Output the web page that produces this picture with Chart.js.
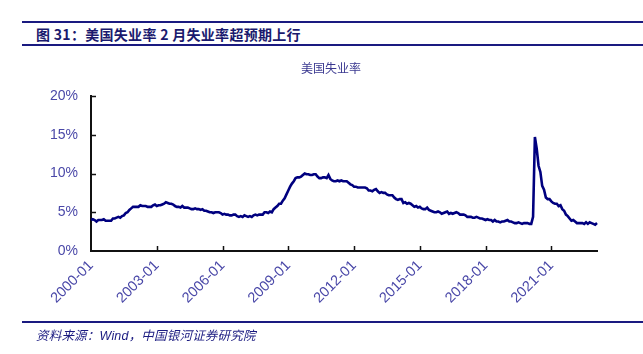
<!DOCTYPE html>
<html>
<head>
<meta charset="utf-8">
<script src="https://cdn.jsdelivr.net/npm/chart.js@4.4.1/dist/chart.umd.min.js"></script>
<style>
  html, body { margin: 0; padding: 0; background: #fff; }
  #wrap { position: relative; width: 643px; height: 354px; overflow: hidden; }
  #c { position: absolute; left: 0; top: 0; }
  .rule { position: absolute; left: 22px; right: 0; background: #1a1a80; }
  #head { position: absolute; left: 36px; top: 24px; font: bold 14px "Noto Sans CJK SC", sans-serif; color: #1a1a6e; white-space: nowrap; letter-spacing: 0.3px; }
  #src { position: absolute; left: 36px; top: 325px; font: italic 12.5px "Liberation Sans", "Noto Sans CJK SC", sans-serif; color: #1a1a80; white-space: nowrap; letter-spacing: 0.2px; }
</style>
</head>
<body>
<div id="wrap">
  <div class="rule" style="top:21px;height:2px;"></div>
  <div id="head">图 31：美国失业率 2 月失业率超预期上行</div>
  <div class="rule" style="top:44px;height:2px;"></div>
  <canvas id="c" width="643" height="354"></canvas>
  <div class="rule" style="top:321px;height:2px;"></div>
  <div id="src">资料来源：Wind，中国银河证券研究院</div>
</div>
<script>
// ---- data ----
const chartTitle = "美国失业率";
const startYear = 2000;
const unemploymentRate = [
  4.0, 4.1, 4.0, 3.8, 4.0, 4.0, 4.0, 4.1, 3.9, 3.9, 3.9, 3.9,   // 2000
  4.2, 4.2, 4.3, 4.4, 4.3, 4.5, 4.6, 4.9, 5.0, 5.3, 5.5, 5.7,   // 2001
  5.7, 5.7, 5.7, 5.9, 5.8, 5.8, 5.8, 5.7, 5.7, 5.7, 5.9, 6.0,   // 2002
  5.8, 5.9, 5.9, 6.0, 6.1, 6.3, 6.2, 6.1, 6.1, 6.0, 5.8, 5.7,   // 2003
  5.7, 5.6, 5.8, 5.6, 5.6, 5.6, 5.5, 5.4, 5.4, 5.5, 5.4, 5.4,   // 2004
  5.3, 5.4, 5.2, 5.2, 5.1, 5.0, 5.0, 4.9, 5.0, 5.0, 5.0, 4.9,   // 2005
  4.7, 4.8, 4.7, 4.7, 4.6, 4.6, 4.7, 4.7, 4.5, 4.4, 4.5, 4.4,   // 2006
  4.6, 4.5, 4.4, 4.5, 4.4, 4.6, 4.7, 4.6, 4.7, 4.7, 4.7, 5.0,   // 2007
  5.0, 4.9, 5.1, 5.0, 5.4, 5.6, 5.8, 6.1, 6.1, 6.5, 6.8, 7.3,   // 2008
  7.8, 8.3, 8.7, 9.0, 9.4, 9.5, 9.5, 9.6, 9.8, 10.0, 9.9, 9.9,  // 2009
  9.8, 9.8, 9.9, 9.9, 9.6, 9.4, 9.4, 9.5, 9.5, 9.4, 9.8, 9.3,   // 2010
  9.1, 9.0, 9.0, 9.1, 9.0, 9.1, 9.0, 9.0, 9.0, 8.8, 8.6, 8.5,   // 2011
  8.3, 8.3, 8.2, 8.2, 8.2, 8.2, 8.2, 8.1, 7.8, 7.8, 7.7, 7.9,   // 2012
  8.0, 7.7, 7.5, 7.6, 7.5, 7.5, 7.3, 7.2, 7.2, 7.2, 6.9, 6.7,   // 2013
  6.6, 6.7, 6.7, 6.2, 6.3, 6.1, 6.2, 6.1, 5.9, 5.7, 5.8, 5.6,   // 2014
  5.7, 5.5, 5.4, 5.4, 5.6, 5.3, 5.2, 5.1, 5.0, 5.0, 5.1, 5.0,   // 2015
  4.8, 4.9, 5.0, 5.1, 4.8, 4.9, 4.8, 4.9, 5.0, 4.9, 4.7, 4.7,   // 2016
  4.7, 4.6, 4.4, 4.4, 4.4, 4.3, 4.3, 4.4, 4.3, 4.2, 4.2, 4.1,   // 2017
  4.0, 4.1, 4.0, 4.0, 3.8, 4.0, 3.8, 3.8, 3.7, 3.8, 3.8, 3.9,   // 2018
  4.0, 3.8, 3.8, 3.7, 3.6, 3.6, 3.7, 3.6, 3.5, 3.6, 3.6, 3.6,   // 2019
  3.5, 3.5, 4.4, 14.7, 13.2, 11.0, 10.2, 8.4, 7.9, 6.9, 6.7, 6.7, // 2020
  6.4, 6.2, 6.1, 6.1, 5.8, 5.9, 5.4, 5.2, 4.7, 4.5, 4.2, 3.9,   // 2021
  4.0, 3.8, 3.6, 3.6, 3.6, 3.6, 3.5, 3.7, 3.5, 3.7, 3.6, 3.5,   // 2022
  3.4, 3.6                                                      // 2023
];
const categories = unemploymentRate.map((_, i) => {
  const y = startYear + Math.floor(i / 12);
  const m = (i % 12) + 1;
  return y + "-" + (m < 10 ? "0" + m : m);
});
const xTickLabels = ["2000-01", "2003-01", "2006-01", "2009-01", "2012-01", "2015-01", "2018-01", "2021-01"];
const yTicks = [0, 5, 10, 15, 20];

// ---- chart ----
const labelColor = "#4a48a8";
const innerTicks = {
  id: "innerTicks",
  afterDraw(chart) {
    const ctx = chart.ctx, xs = chart.scales.x, ys = chart.scales.y, a = chart.chartArea;
    ctx.save();
    ctx.strokeStyle = "#111";
    ctx.lineWidth = 1.5;
    ctx.beginPath();
    xTickLabels.forEach(l => {
      const i = categories.indexOf(l);
      if (i <= 0) return;
      const x = Math.round(xs.getPixelForValue(i)) + 0.5;
      ctx.moveTo(x, a.bottom); ctx.lineTo(x, a.bottom - 5);
    });
    yTicks.forEach(v => {
      if (v === 0) return;
      const y = Math.round(ys.getPixelForValue(v)) + 0.5;
      ctx.moveTo(a.left, y); ctx.lineTo(a.left + 5, y);
    });
    ctx.stroke();
    // title
    ctx.fillStyle = "#3a3890";
    ctx.font = "12px 'Noto Sans CJK SC', sans-serif";
    ctx.textAlign = "center";
    ctx.textBaseline = "middle";
    ctx.fillText(chartTitle, (a.left + a.right) / 2 - 13, 68);
    ctx.restore();
  }
};

new Chart(document.getElementById("c"), {
  type: "line",
  data: {
    labels: categories,
    datasets: [{
      data: unemploymentRate,
      borderColor: "#00007f",
      borderWidth: 2.6,
      pointRadius: 0,
      tension: 0,
      fill: false
    }]
  },
  options: {
    responsive: false,
    animation: false,
    events: [],
    layout: { padding: { left: 0, right: 46, top: 96, bottom: 0 } },
    plugins: { legend: { display: false }, title: { display: false }, tooltip: { enabled: false } },
    scales: {
      x: {
        type: "category",
        offset: false,
        grid: { display: false, drawTicks: false },
        border: { display: true, color: "#111", width: 2 },
        afterFit(s) { s.height = 103; },
        ticks: {
          autoSkip: false,
          maxRotation: 45,
          minRotation: 45,
          padding: 6,
          color: labelColor,
          font: { family: "'Liberation Sans', Arial, sans-serif", size: 14.5 },
          callback(v, i) { const l = categories[i]; return xTickLabels.includes(l) ? l : ""; }
        }
      },
      y: {
        min: 0,
        max: 20,
        grid: { display: false, drawTicks: false },
        border: { display: true, color: "#111", width: 2 },
        afterFit(s) { s.width = 91; },
        afterBuildTicks(s) { s.ticks = yTicks.map(v => ({ value: v })); },
        ticks: {
          padding: 13,
          color: labelColor,
          font: { family: "'Liberation Sans', Arial, sans-serif", size: 14 },
          callback(v) { return v + "%"; }
        }
      }
    }
  },
  plugins: [innerTicks]
});
</script>
</body>
</html>
